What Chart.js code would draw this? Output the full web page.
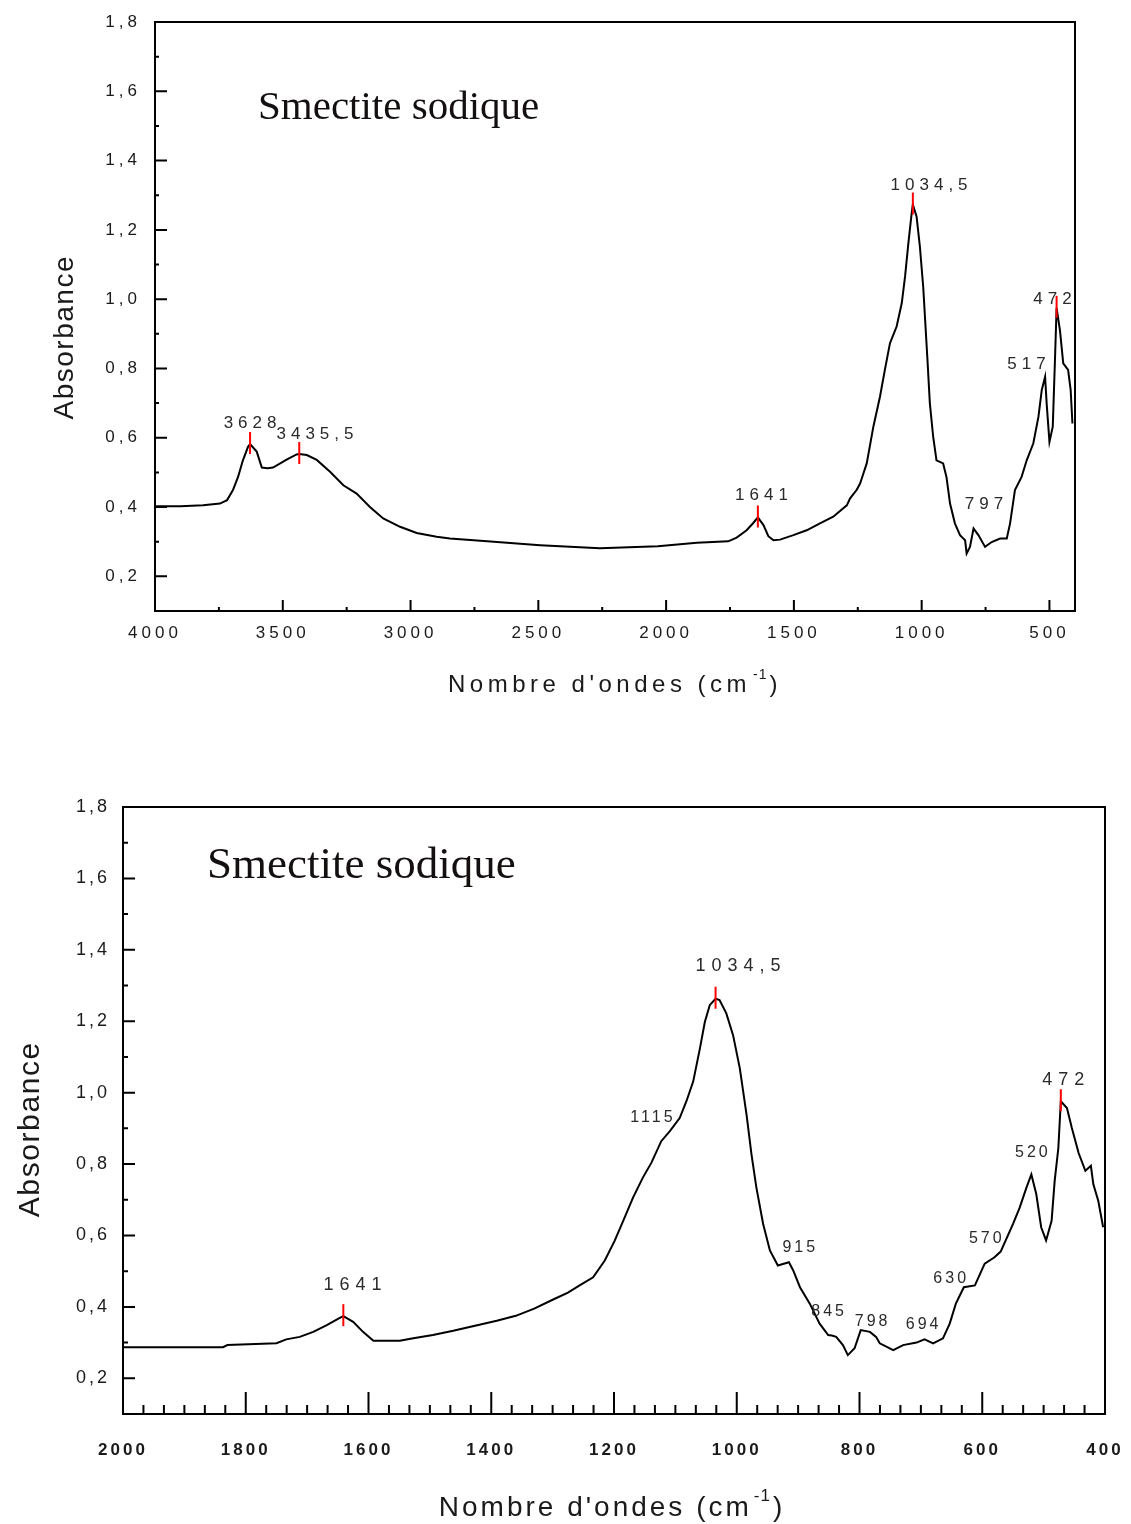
<!DOCTYPE html>
<html>
<head>
<meta charset="utf-8">
<title>Smectite sodique - spectres IR</title>
<script src="https://cdn.jsdelivr.net/npm/chart.js@4.4.1/dist/chart.umd.min.js"></script>
<style>
  html, body { margin: 0; padding: 0; background: #fff; }
  #page { position: relative; width: 1131px; height: 1524px; }
  canvas { position: absolute; left: 0; }
  #fullChart { top: 0; }
  #zoomChart { top: 760px; }
</style>
</head>
<body>
<div id="page">
  <canvas id="fullChart" width="1131" height="740"></canvas>
  <canvas id="zoomChart" width="1131" height="764"></canvas>
</div>
<script>
// Spectre complet, 4000 -> 400 cm-1
const fullWavenumbers = [
  4000, 3900, 3812, 3746, 3718, 3695, 3675, 3656, 3636, 3628, 3602, 3582, 3560, 3538,
  3485, 3446, 3435.5, 3406, 3367, 3315, 3263, 3211, 3159, 3107, 3041, 2976, 2898, 2846,
  2700, 2493, 2259, 2032, 1880, 1757, 1724, 1685, 1659, 1641, 1619, 1600, 1580, 1554,
  1502, 1450, 1398, 1346, 1293, 1280, 1254, 1241, 1228, 1215, 1189, 1163, 1144, 1124,
  1098, 1078, 1065, 1052, 1039, 1034.5, 1020, 1007, 994, 978, 968, 955, 942, 916, 903,
  889, 870, 850, 830, 824, 811, 797, 778, 752, 726, 693, 667, 654, 635, 609, 589, 563,
  543, 530, 517, 511, 500, 487, 478, 472, 459, 446, 427, 417, 410
];
const fullAbsorbance = [
  0.402, 0.402, 0.405, 0.41, 0.42, 0.449, 0.487, 0.535, 0.574, 0.582, 0.56, 0.514, 0.512, 0.514,
  0.537, 0.552, 0.553, 0.55, 0.536, 0.502, 0.463, 0.439, 0.40, 0.367, 0.343, 0.325, 0.314, 0.309,
  0.301, 0.29, 0.281, 0.287, 0.297, 0.301, 0.312, 0.333, 0.354, 0.37, 0.348, 0.316, 0.304, 0.306,
  0.319, 0.333, 0.353, 0.372, 0.405, 0.425, 0.45, 0.468, 0.497, 0.526, 0.632, 0.719, 0.796, 0.873,
  0.921, 0.988, 1.065, 1.162, 1.249, 1.273, 1.239, 1.152, 1.036, 0.834, 0.70, 0.603, 0.535, 0.526, 0.487,
  0.41, 0.353, 0.319, 0.304, 0.266, 0.285, 0.338, 0.319, 0.285, 0.299, 0.309, 0.309, 0.353, 0.449, 0.487, 0.535, 0.584,
  0.661, 0.738, 0.776, 0.70, 0.588, 0.632, 0.834, 0.975, 0.911, 0.815, 0.796, 0.738, 0.641
];

// Agrandissement, 2000 -> 400 cm-1
const zoomWavenumbers = [
  2000, 1837, 1830, 1750, 1734, 1712, 1690, 1668, 1649, 1641, 1625, 1609, 1592, 1549,
  1527, 1495, 1462, 1430, 1391, 1360, 1330, 1300, 1275, 1256, 1234, 1215, 1199, 1185,
  1169, 1153, 1139, 1123, 1109, 1093, 1082, 1071, 1060, 1052, 1044, 1034.5, 1028, 1017,
  1006, 995, 984, 976, 968, 957, 946, 933, 915, 908, 897, 881, 865, 851, 845, 838, 827,
  819, 808, 798, 783, 773, 767, 745, 729, 707, 694, 680, 664, 653, 643, 630, 612, 596,
  580, 570, 550, 539, 528, 520, 512, 504, 496, 487, 482, 476, 472, 462, 454, 443, 432,
  423, 419, 411, 403
];
const zoomAbsorbance = [
  0.287, 0.287, 0.293, 0.298, 0.309, 0.316, 0.33, 0.349, 0.367, 0.374, 0.358, 0.33, 0.305, 0.305,
  0.312, 0.321, 0.333, 0.346, 0.361, 0.375, 0.395, 0.42, 0.44, 0.46, 0.483, 0.53, 0.585, 0.641,
  0.706, 0.762, 0.804, 0.864, 0.892, 0.929, 0.976, 1.031, 1.124, 1.198, 1.245, 1.263, 1.259, 1.222,
  1.161, 1.068, 0.938, 0.827, 0.734, 0.632, 0.558, 0.516, 0.525, 0.502, 0.455, 0.409, 0.353, 0.321, 0.32, 0.316, 0.293,
  0.265, 0.284, 0.335, 0.33, 0.316, 0.298, 0.279, 0.293, 0.30, 0.309, 0.298, 0.312, 0.353, 0.409, 0.455, 0.46, 0.521,
  0.539, 0.555, 0.632, 0.678, 0.734, 0.771, 0.716, 0.623, 0.586, 0.641, 0.753, 0.845, 0.976, 0.957, 0.901, 0.831, 0.781,
  0.795, 0.743, 0.697, 0.623
];

// Graduations étiquetées
const fullXTicks = [4000, 3500, 3000, 2500, 2000, 1500, 1000, 500];
const zoomXTicks = [2000, 1800, 1600, 1400, 1200, 1000, 800, 600, 400];
const absorbanceTicks = [0.2, 0.4, 0.6, 0.8, 1.0, 1.2, 1.4, 1.6, 1.8];

// Bandes annotées : texte, et point d'ancrage du texte [cm-1, absorbance]
const fullPeakLabels = ['3628', '3435,5', '1641', '1034,5', '797', '517', '472'];
const fullPeakLabelAt = [[3628, 0.642], [3374, 0.611], [1627, 0.433], [971, 1.329], [756, 0.408], [590, 0.813], [488, 1.001]];
const fullMarkedPeaks = [3628, 3435.5, 1641, 1034.5, 472];

const zoomMainLabels = ['1641', '1034,5', '472'];
const zoomMainLabelAt = [[1626, 0.46], [998, 1.356], [468, 1.035]];
const zoomMinorLabels = ['1115', '915', '845', '798', '694', '630', '570', '520'];
const zoomMinorLabelAt = [[1139, 0.93], [899, 0.567], [852, 0.386], [781, 0.358], [698, 0.349], [653, 0.478], [595, 0.59], [520, 0.833]];
const zoomMarkedPeaks = [1641, 1034.5, 472];

const SANS = "'Liberation Sans', Arial, Helvetica, sans-serif";
const SERIF = "'Liberation Serif', 'Times New Roman', serif";

function toPoints(xs, ys) {
  return xs.map((x, i) => ({ x: x, y: ys[i] }));
}

function absorbanceAt(points, wn) {
  for (let i = 1; i < points.length; i++) {
    const a = points[i - 1], b = points[i];
    if ((a.x - wn) * (b.x - wn) <= 0) {
      const t = a.x === b.x ? 0 : (wn - a.x) / (b.x - a.x);
      return a.y + t * (b.y - a.y);
    }
  }
  return points[points.length - 1].y;
}

// ticks pointing into the plot, major + minor
function drawInwardTicks(ctx, scale, area, t) {
  const ratio = Math.round(t.major / t.minor);
  const k0 = Math.ceil(scale.min / t.minor - 1e-6);
  const k1 = Math.floor(scale.max / t.minor + 1e-6);
  ctx.beginPath();
  for (let k = k0; k <= k1; k++) {
    const len = k % ratio === 0 ? t.len[0] : t.len[1];
    const p = scale.getPixelForValue(k * t.minor);
    if (scale.isHorizontal()) {
      ctx.moveTo(p, area.bottom);
      ctx.lineTo(p, area.bottom - len);
    } else {
      ctx.moveTo(area.left, p);
      ctx.lineTo(area.left + len, p);
    }
  }
  ctx.stroke();
}

const framePlugin = {
  id: 'frame',
  beforeDraw(chart, args, o) {
    chart.ctx.letterSpacing = o.tickSpacing + 'px';
  },
  afterDraw(chart, args, o) {
    const { ctx, chartArea: a, scales } = chart;
    ctx.save();
    ctx.strokeStyle = '#000';
    ctx.lineWidth = 2;
    ctx.strokeRect(a.left, a.top, a.right - a.left, a.bottom - a.top);
    drawInwardTicks(ctx, scales.x, a, o.xTicks);
    drawInwardTicks(ctx, scales.y, a, o.yTicks);
    ctx.restore();
  }
};

function spacedText(ctx, text, x, y, spacing) {
  ctx.letterSpacing = spacing + 'px';
  const w = ctx.measureText(text).width;
  ctx.textAlign = 'left';
  ctx.fillText(text, x - w / 2 + spacing / 2, y);
}

const notesPlugin = {
  id: 'notes',
  afterDatasetsDraw(chart, args, o) {
    const { ctx, scales: { x, y } } = chart;
    const pts = chart.data.datasets[0].data;
    ctx.save();
    ctx.strokeStyle = '#ff0000';
    ctx.lineWidth = 2;
    o.marked.forEach(wn => {
      const px = x.getPixelForValue(wn);
      const py = y.getPixelForValue(absorbanceAt(pts, wn));
      ctx.beginPath();
      ctx.moveTo(px, py - 12);
      ctx.lineTo(px, py + 10);
      ctx.stroke();
    });
    ctx.fillStyle = '#2a2a2a';
    ctx.textBaseline = 'middle';
    o.groups.forEach(g => {
      ctx.font = g.font;
      g.labels.forEach((t, i) => {
        const at = g.at[i];
        spacedText(ctx, t, x.getPixelForValue(at[0]), y.getPixelForValue(at[1]), g.spacing);
      });
    });
    ctx.restore();
  },
  afterDraw(chart, args, o) {
    const ctx = chart.ctx;
    ctx.save();
    ctx.textBaseline = 'middle';
    ctx.fillStyle = '#151010';
    // sample name
    ctx.font = o.sample.size + 'px ' + SERIF;
    ctx.letterSpacing = '0px';
    ctx.textAlign = 'left';
    ctx.fillText(o.sample.text, o.sample.x, o.sample.y);

    ctx.fillStyle = '#1a1a1a';
    // y title, rotated
    ctx.save();
    ctx.translate(o.yTitle.x, o.yTitle.y);
    ctx.rotate(-Math.PI / 2);
    ctx.font = o.yTitle.size + 'px ' + SANS;
    spacedText(ctx, 'Absorbance', 0, 0, o.yTitle.spacing);
    ctx.restore();

    // x title with superscript
    const main = "Nombre d'ondes (cm", sup = '-1', close = ')';
    const s = o.xTitle.size, sp = o.xTitle.spacing;
    ctx.letterSpacing = sp + 'px';
    ctx.font = s + 'px ' + SANS;
    const w1 = ctx.measureText(main).width;
    const w3 = ctx.measureText(close).width;
    ctx.font = Math.round(s * 0.6) + 'px ' + SANS;
    ctx.letterSpacing = '1px';
    const w2 = ctx.measureText(sup).width;
    const x0 = o.xTitle.x - (w1 + w2 + w3 + 4) / 2;
    ctx.textAlign = 'left';
    ctx.fillText(sup, x0 + w1 + 2, o.xTitle.y - s * 0.42);
    ctx.font = s + 'px ' + SANS;
    ctx.letterSpacing = sp + 'px';
    ctx.fillText(main, x0, o.xTitle.y);
    ctx.fillText(close, x0 + w1 + w2 + 4, o.xTitle.y);
    ctx.restore();
  }
};

function spectrumChart(canvas, cfg) {
  return new Chart(canvas, {
    type: 'line',
    data: {
      datasets: [{
        data: toPoints(cfg.wavenumbers, cfg.absorbance),
        borderColor: '#000',
        borderWidth: 2,
        pointRadius: 0,
        tension: 0,
        fill: false
      }]
    },
    options: {
      responsive: false,
      animation: false,
      events: [],
      layout: { padding: { left: 0, top: cfg.area.top, right: cfg.area.right, bottom: 0 } },
      plugins: {
        legend: { display: false },
        tooltip: { enabled: false },
        frame: cfg.frame,
        notes: cfg.notes
      },
      scales: {
        x: {
          type: 'linear',
          min: cfg.xMin,
          max: cfg.xMax,
          reverse: true,
          grid: { display: false, drawTicks: false },
          border: { display: false },
          ticks: {
            autoSkip: false,
            maxRotation: 0,
            padding: cfg.xTickPadding,
            color: '#1a1a1a',
            font: cfg.xTickFont,
            callback: v => String(v)
          },
          afterBuildTicks: s => { s.ticks = cfg.xTicks.map(v => ({ value: v })); },
          afterFit: s => {
            s.height = cfg.area.xHeight;
            s.paddingLeft = 0;
            s.paddingRight = 0;
          }
        },
        y: {
          type: 'linear',
          min: 0.1,
          max: 1.8,
          grid: { display: false, drawTicks: false },
          border: { display: false },
          ticks: {
            padding: cfg.yTickPadding,
            color: '#1a1a1a',
            font: cfg.yTickFont,
            callback: v => v.toFixed(1).replace('.', ',')
          },
          afterBuildTicks: s => { s.ticks = absorbanceTicks.map(v => ({ value: v })); },
          afterFit: s => {
            s.width = cfg.area.left;
            s.paddingTop = 0;
            s.paddingBottom = 0;
          }
        }
      }
    },
    plugins: [framePlugin, notesPlugin]
  });
}

spectrumChart(document.getElementById('fullChart'), {
  wavenumbers: fullWavenumbers,
  absorbance: fullAbsorbance,
  xMin: 400, xMax: 4000, xTicks: fullXTicks,
  area: { left: 155, top: 22, right: 56, xHeight: 129 },
  xTickPadding: 12, yTickPadding: 14,
  xTickFont: { family: SANS, size: 17 },
  yTickFont: { family: SANS, size: 17 },
  frame: {
    tickSpacing: 4,
    xTicks: { major: 500, minor: 250, len: [11, 4] },
    yTicks: { major: 0.2, minor: 0.1, len: [12, 4] }
  },
  notes: {
    marked: fullMarkedPeaks,
    groups: [{ labels: fullPeakLabels, at: fullPeakLabelAt, font: '17px ' + SANS, spacing: 5 }],
    sample: { text: 'Smectite sodique', x: 258, y: 108, size: 41 },
    yTitle: { x: 65, y: 338, size: 28, spacing: 1.5 },
    xTitle: { x: 615, y: 685, size: 24, spacing: 4.5 }
  }
});

spectrumChart(document.getElementById('zoomChart'), {
  wavenumbers: zoomWavenumbers,
  absorbance: zoomAbsorbance,
  xMin: 400, xMax: 2000, xTicks: zoomXTicks,
  area: { left: 123, top: 47, right: 26, xHeight: 110 },
  xTickPadding: 26, yTickPadding: 13,
  xTickFont: { family: SANS, size: 17, weight: 'bold' },
  yTickFont: { family: SANS, size: 18 },
  frame: {
    tickSpacing: 3,
    xTicks: { major: 200, minor: 200 / 6, len: [22, 9] },
    yTicks: { major: 0.2, minor: 0.1, len: [12, 5] }
  },
  notes: {
    marked: zoomMarkedPeaks,
    groups: [
      { labels: zoomMainLabels, at: zoomMainLabelAt, font: '18px ' + SANS, spacing: 6 },
      { labels: zoomMinorLabels, at: zoomMinorLabelAt, font: '16px ' + SANS, spacing: 3 }
    ],
    sample: { text: 'Smectite sodique', x: 207, y: 106, size: 45 },
    yTitle: { x: 31, y: 370, size: 30, spacing: 1.6 },
    xTitle: { x: 612, y: 748, size: 28, spacing: 3 }
  }
});
</script>
</body>
</html>
